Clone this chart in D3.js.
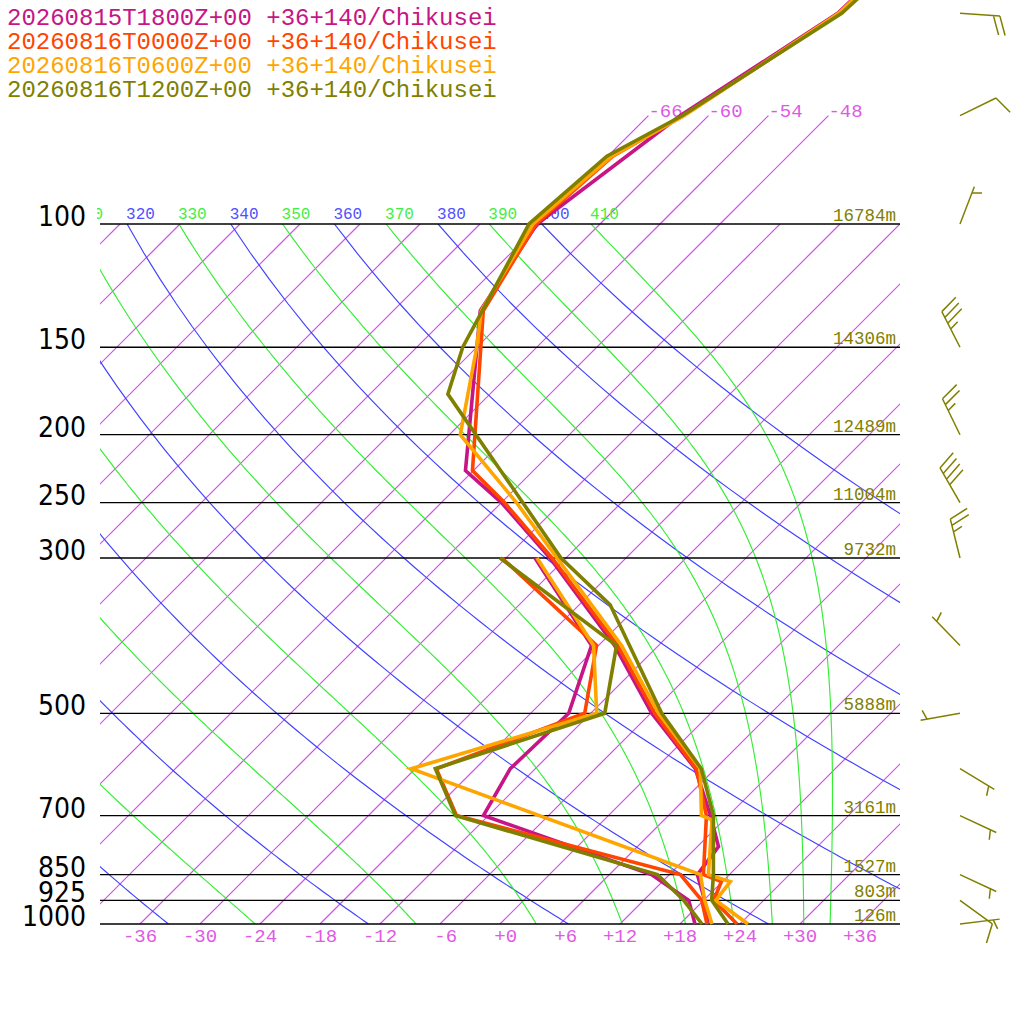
<!DOCTYPE html>
<html>
<head>
<meta charset="utf-8">
<script src="https://cdn.jsdelivr.net/npm/d3@7"></script>
<style>
  html, body { margin: 0; padding: 0; background: #fff; }
  svg { display: block; }
  .mono { font-family: "Liberation Mono", "DejaVu Sans Mono", monospace; }
  .plev { font-family: "DejaVu Sans Condensed", "DejaVu Sans", sans-serif; font-stretch: condensed; font-size: 28px; fill: #000; }
  .isoline { stroke: #d050e8; stroke-width: 1.2px; fill: none; }
  .dryline { stroke: #4040ff; stroke-width: 1.15px; fill: none; }
  .moistline { stroke: #33ee33; stroke-width: 1.15px; fill: none; }
</style>
</head>
<body>
<svg id="chart" width="1024" height="1024"></svg>
<script>
// ---- data ----
const runs = ["20260815T1800Z+00", "20260816T0000Z+00", "20260816T0600Z+00", "20260816T1200Z+00"];
const place = "+36+140/Chikusei";
const runColors = ["mediumvioletred", "orangered", "orange", "olive"];

// temperature [hPa, degC]
const temp1800 = [[1000,20.8],[925,18.1],[850,14.8],[775,14.1],[700,10.2],[600,4.0],[500,-5.9],[400,-16.4],[300,-31.6],[250,-42.0],[225,-48.8],[133,-63.3],[100,-66.3],[70,-62.8],[50,-57.3],[30,-56.5]];
const temp0000 = [[1000,23.7],[925,19.0],[870,17.9],[850,15.4],[700,9.8],[600,4.1],[500,-5.6],[400,-16.1],[300,-31.4],[250,-41.7],[225,-48.1],[133,-63.0],[100,-66.4],[80,-65.5],[70,-62.5],[50,-57.1],[30,-56.5]];
const temp0600 = [[1000,24.8],[925,19.2],[870,18.8],[850,15.9],[710,10.8],[700,9.3],[600,4.5],[500,-5.2],[400,-15.7],[300,-30.9],[250,-40.5],[200,-52.9],[150,-60.0],[133,-63.2],[100,-66.7],[80,-65.6],[70,-62.4],[50,-57.2],[30,-56.5]];
const temp1200 = [[1000,22.8],[925,18.8],[850,16.4],[700,10.5],[600,4.6],[500,-4.9],[350,-20.9],[300,-30.5],[175,-58.2],[150,-61.4],[100,-67.1],[80,-66.1],[70,-62.6],[50,-56.9],[30,-55.5]];

// dew point [hPa, degC]
const dew1800 = [[1000,19.5],[925,16.5],[850,10.2],[700,-12.5],[600,-14.5],[500,-14.2],[400,-18.7],[300,-33.1]];
const dew0000 = [[1000,20.7],[925,17.8],[850,13.1],[700,-15.2],[600,-21.9],[500,-12.6],[400,-18.2],[300,-36.4]];
const dew0600 = [[1000,21.2],[925,18.1],[850,15.1],[600,-24.4],[500,-11.4],[400,-18.5],[300,-32.9]];
const dew1200 = [[1000,20.2],[925,16.0],[850,10.8],[700,-15.3],[600,-22.0],[500,-10.6],[400,-16.2],[300,-36.6]];

const temps = [temp1800, temp0000, temp0600, temp1200];
const dews = [dew1800, dew0000, dew0600, dew1200];

// labelled pressure levels and geopotential heights of the last run
const levelLabels = [1000, 925, 850, 700, 500, 300, 250, 200, 150, 100];
const heightLabels = ["126m", "803m", "1527m", "3161m", "5888m", "9732m", "11004m", "12489m", "14306m", "16784m"];

// wind of the last run
const windLevels = [1000, 925, 850, 700, 600, 500, 400, 300, 250, 200, 150, 100, 70, 50];
const windDir = [83, 126, 115, 115, 121, 260, 316, 346, 330, 334, 333, 21, 64, 94];
const windSpd = [5, 10, 5, 5, 5, 5, 5, 25, 40, 25, 35, 5, 10, 20];

// diagram grid
const tempTicks = [-36, -30, -24, -18, -12, -6, 0, 6, 12, 18, 24, 30, 36];
const topIsotherms = [-66, -60, -54, -48];
const dryThetas = [240, 260, 280, 300, 320, 340, 360, 380, 400];
const moistThetas = [250, 270, 290, 310, 330, 350, 370, 390, 410];

const isoLabelColor = "#de5ae4";

// ---- scales ----
const y = d3.scaleLog().domain([1000, 100]).range([924, 224]);
const x = d3.scaleLinear().domain([-40, 40]).range([100, 900]);
const skew = (t, p) => x(t) + (y(1000) - y(p));
const KAPPA = 287.04 / 1005.7;

const svg = d3.select("#chart");
const defs = svg.append("defs");
defs.append("clipPath").attr("id", "plot").append("rect")
  .attr("x", 100).attr("y", 224).attr("width", 800).attr("height", 700);
defs.append("clipPath").attr("id", "thlab").append("rect")
  .attr("x", 97).attr("y", 150).attr("width", 900).attr("height", 100);

const profLine = d3.line().x(d => skew(d[1], d[0])).y(d => y(d[0]));

// pseudo-adiabat, integrated downward from the top
function satMix(p, T) {
  const es = 6.112 * Math.exp(17.67 * (T - 273.15) / (T - 29.65));
  return 0.622 * es / (p - es);
}
function lapse(p, T) {
  const rs = satMix(p, T);
  return (287.04 * T + 2.501e6 * rs) / (p * (1005.7 + 2.501e6 * 2.501e6 * rs * 0.622 / (287.04 * T * T)));
}
function moistPoints(th) {
  let p = 40, T = th * Math.pow(p / 1000, KAPPA);
  const pts = [];
  while (p < 1000) {
    const k1 = lapse(p, T), k2 = lapse(p + 0.5, T + k1 * 0.5);
    const k3 = lapse(p + 0.5, T + k2 * 0.5), k4 = lapse(p + 1, T + k3);
    T += (k1 + 2 * k2 + 2 * k3 + k4) / 6;
    p += 1;
    if (p >= 100 && p % 5 === 0) pts.push([p, T - 273.15]);
  }
  return pts;
}
function dryPoints(th) {
  return d3.range(100, 1001, 10).map(p => [p, th * Math.pow(p / 1000, KAPPA) - 273.15]);
}

// ---- background grid ----
const grid = svg.append("g").attr("clip-path", "url(#plot)");

const isoG = grid.append("g");
d3.range(-108, 40, 6).forEach(t => {
  isoG.append("path").attr("class", "isoline")
    .attr("d", `M${skew(t, 1000)},${y(1000)}L${skew(t, 100)},${y(100)}`);
});

grid.selectAll("path.dryline").data(dryThetas).join("path")
  .attr("class", "dryline")
  .attr("d", th => profLine(dryPoints(th)));

const moist = moistThetas.map(th => ({ th, pts: moistPoints(th) }));
grid.selectAll("path.moistline").data(moist).join("path")
  .attr("class", "moistline")
  .attr("d", m => profLine(m.pts));

// isotherms continued up to 70 hPa
topIsotherms.forEach(t => {
  svg.append("path").attr("class", "isoline")
    .attr("d", `M${skew(t, 100)},${y(100)}L${skew(t, 70)},${y(70)}`);
});
svg.selectAll("text.isotop").data(topIsotherms).join("text")
  .attr("class", "isotop mono")
  .attr("x", t => skew(t, 70)).attr("y", y(70) + 1)
  .attr("font-size", 19).attr("fill", isoLabelColor)
  .text(t => (t > 0 ? "+" : "") + t);

// theta labels at 100 hPa
const thLabels = dryThetas.map(th => ({ th, t: th * Math.pow(0.1, KAPPA) - 273.15, c: "#5050ff" }))
  .concat(moist.map(m => ({ th: m.th, t: m.pts[0][1], c: "#44ee44" })));
svg.append("g").attr("clip-path", "url(#thlab)")
  .selectAll("text").data(thLabels).join("text")
  .attr("class", "mono")
  .attr("x", d => skew(d.t, 100) - 1).attr("y", 219)
  .attr("font-size", 16).attr("fill", d => d.c)
  .text(d => d.th);

// pressure lines
svg.append("g")
  .selectAll("path").data(levelLabels).join("path")
  .attr("d", p => `M100,${y(p)}H900`)
  .attr("stroke", "#000").attr("stroke-width", 1.3);

svg.selectAll("text.plev").data(levelLabels).join("text")
  .attr("class", "plev")
  .attr("x", 86).attr("y", p => y(p) + 2)
  .attr("text-anchor", "end")
  .text(p => p);

svg.selectAll("text.hgt").data(levelLabels).join("text")
  .attr("class", "hgt mono")
  .attr("x", 896).attr("y", p => y(p) - 3)
  .attr("text-anchor", "end").attr("font-size", 17.5).attr("fill", "olive")
  .text((p, i) => heightLabels[i]);

// temperature axis labels
svg.selectAll("text.tick").data(tempTicks).join("text")
  .attr("class", "tick mono")
  .attr("x", t => x(t) + 17.1).attr("y", 942)
  .attr("text-anchor", "end").attr("font-size", 19).attr("fill", isoLabelColor)
  .text(t => (t >= 0 ? "+" : "") + t);

// legend
svg.selectAll("text.legend").data(runs).join("text")
  .attr("class", "legend mono")
  .attr("x", 7).attr("y", (d, i) => 25 + i * 24)
  .attr("font-size", 24).attr("fill", (d, i) => runColors[i])
  .text(d => d + " " + place);

// ---- profiles ----
runs.forEach((r, i) => {
  const g = svg.append("g").attr("fill", "none").attr("stroke", runColors[i])
    .attr("stroke-width", 3.6).attr("stroke-linejoin", "miter");
  g.append("path").attr("d", profLine(dews[i]));
  g.append("path").attr("d", profLine(temps[i]));
});

// ---- wind barbs (last run) ----
const barbs = svg.append("g").attr("stroke", "olive").attr("stroke-width", 1.5).attr("fill", "none");
windLevels.forEach((p, i) => {
  const x0 = 960, y0 = y(p);
  const a = windDir[i] * Math.PI / 180;
  const u = [Math.sin(a), -Math.cos(a)];
  const rt = [-u[1], u[0]];
  const L = 40, gap = 6.5, bl = 19, bf = 6.5;
  const tip = [x0 + L * u[0], y0 + L * u[1]];
  let d = `M${x0},${y0}L${tip[0]},${tip[1]}`;
  const full = Math.floor(windSpd[i] / 10);
  const half = (windSpd[i] % 10) >= 5 ? 1 : 0;
  let k = (full === 0) ? 1 : 0;
  const add = (s) => {
    const b = [tip[0] - k * gap * u[0], tip[1] - k * gap * u[1]];
    d += `M${b[0]},${b[1]}L${b[0] + s * (bl * rt[0] + bf * u[0])},${b[1] + s * (bl * rt[1] + bf * u[1])}`;
    k++;
  };
  for (let j = 0; j < full; j++) add(1);
  if (half) add(0.5);
  barbs.append("path").attr("d", d);
});
</script>
</body>
</html>
